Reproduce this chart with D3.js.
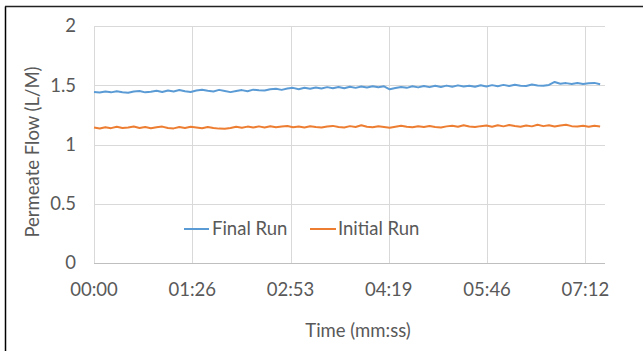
<!DOCTYPE html>
<html><head><meta charset="utf-8">
<script src="https://cdn.jsdelivr.net/npm/d3@7/dist/d3.min.js"></script>
<style>
html,body{margin:0;padding:0;background:#fff;}
svg{display:block;font-family:Lato,"Open Sans",sans-serif;}
</style></head><body>
<svg id="c" width="643" height="351"></svg>
<script>
// time in seconds
const times = [0,5,10,15,20,25,30,35,40,45,50,55,60,65,70,75,80,85,90,95,
100,105,110,115,120,125,130,135,140,145,150,155,160,165,170,175,180,185,190,195,
200,205,210,215,220,225,230,235,240,245,250,255,260,265,270,275,280,285,290,295,
300,305,310,315,320,325,330,335,340,345,350,355,360,365,370,375,380,385,390,395,
400,405,410,415,420,425,430,435,440,445];
const finalRun = [
1.444,1.438,1.447,1.440,1.449,1.441,1.437,1.448,1.452,1.440,
1.446,1.454,1.443,1.456,1.447,1.460,1.449,1.443,1.455,1.462,
1.453,1.448,1.461,1.452,1.442,1.451,1.459,1.450,1.463,1.458,
1.455,1.466,1.470,1.461,1.472,1.478,1.467,1.479,1.470,1.481,
1.472,1.484,1.474,1.485,1.475,1.488,1.478,1.490,1.481,1.492,
1.483,1.491,1.466,1.476,1.486,1.478,1.491,1.482,1.494,1.484,
1.495,1.486,1.497,1.487,1.499,1.489,1.496,1.487,1.500,1.490,
1.501,1.492,1.503,1.493,1.505,1.496,1.494,1.506,1.497,1.495,
1.503,1.528,1.513,1.518,1.511,1.519,1.510,1.517,1.520,1.508];
const initialRun = [
1.143,1.135,1.146,1.138,1.149,1.139,1.144,1.152,1.140,1.147,
1.137,1.146,1.151,1.139,1.136,1.148,1.140,1.149,1.143,1.137,
1.147,1.139,1.134,1.132,1.139,1.149,1.141,1.151,1.143,1.153,
1.144,1.154,1.145,1.151,1.156,1.146,1.152,1.144,1.154,1.147,
1.143,1.152,1.157,1.147,1.144,1.155,1.148,1.162,1.150,1.145,
1.154,1.148,1.141,1.150,1.159,1.149,1.145,1.154,1.147,1.156,
1.148,1.143,1.153,1.159,1.150,1.162,1.152,1.147,1.155,1.160,
1.150,1.162,1.153,1.165,1.156,1.150,1.161,1.153,1.166,1.155,
1.163,1.152,1.161,1.167,1.155,1.151,1.159,1.150,1.158,1.151];
const xTicks = [0,86.4,172.8,259.2,345.6,432];
const xTickLabels = ["00:00","01:26","02:53","04:19","05:46","07:12"];
const yTicks = [0,0.5,1,1.5,2];
const yTickLabels = ["0","0.5","1","1.5","2"];
const seriesNames = ["Final Run","Initial Run"];
const seriesColors = ["#5B9BD5","#ED7D31"];

const svg = d3.select("#c");
const L=94, R=605, T=26, B=263;
const x = d3.scaleLinear().domain([0,449.28]).range([L,R]);
const y = d3.scaleLinear().domain([0,2]).range([B,T]);
const txt = "#595959";
const fs = 18.5;

// frame (left & top)
svg.append("line").attr("x1",5.5).attr("x2",5.5).attr("y1",6.5).attr("y2",351).attr("stroke","#000").attr("stroke-width",1.5);
svg.append("line").attr("x1",5).attr("x2",643).attr("y1",6.5).attr("y2",6.5).attr("stroke","#222").attr("stroke-width",1.5);

// gridlines
svg.append("g").selectAll("line").data(yTicks).join("line")
  .attr("x1",L).attr("x2",R).attr("y1",d=>Math.round(y(d))+0.5).attr("y2",d=>Math.round(y(d))+0.5)
  .attr("stroke",d=>d===0?"#BFBFBF":"#D9D9D9").attr("stroke-width",1);
svg.append("g").selectAll("line").data(xTicks).join("line")
  .attr("x1",d=>Math.round(x(d))+0.5).attr("x2",d=>Math.round(x(d))+0.5).attr("y1",T).attr("y2",B)
  .attr("stroke","#D9D9D9").attr("stroke-width",1);

// tick labels
svg.append("g").selectAll("text").data(yTicks).join("text")
  .attr("x",76).attr("y",d=>y(d)).attr("dy","0.35em").attr("text-anchor","end")
  .attr("fill",txt).attr("font-size",fs).text((d,i)=>yTickLabels[i]);
svg.append("g").selectAll("text").data(xTicks).join("text")
  .attr("x",d=>x(d)).attr("y",290).attr("dy","0.35em").attr("text-anchor","middle")
  .attr("fill",txt).attr("font-size",fs).text((d,i)=>xTickLabels[i]);

// axis titles
svg.append("text").attr("x",358).attr("y",331).attr("dy","0.35em").attr("text-anchor","middle")
  .attr("fill",txt).attr("font-size",fs).text("Time (mm:ss)");
svg.append("text").attr("transform","translate(33,152) rotate(-90)").attr("dy","0.35em").attr("text-anchor","middle")
  .attr("fill",txt).attr("font-size",fs).text("Permeate Flow (L/M)");

// lines
const line = d3.line().x((d,i)=>x(times[i])).y(d=>y(d));
[finalRun, initialRun].forEach((s,k)=>{
  svg.append("path").datum(s).attr("d",line).attr("fill","none")
    .attr("stroke",seriesColors[k]).attr("stroke-width",2).attr("stroke-linejoin","round");
});

// legend
const leg = [{x1:184,x2:209,tx:212},{x1:310,x2:336,tx:338}];
leg.forEach((p,k)=>{
  svg.append("line").attr("x1",p.x1).attr("x2",p.x2).attr("y1",229).attr("y2",229)
    .attr("stroke",seriesColors[k]).attr("stroke-width",2);
  svg.append("text").attr("x",p.tx).attr("y",229).attr("dy","0.35em").attr("fill",txt)
    .attr("font-size",fs).text(seriesNames[k]);
});
</script>
</body></html>
